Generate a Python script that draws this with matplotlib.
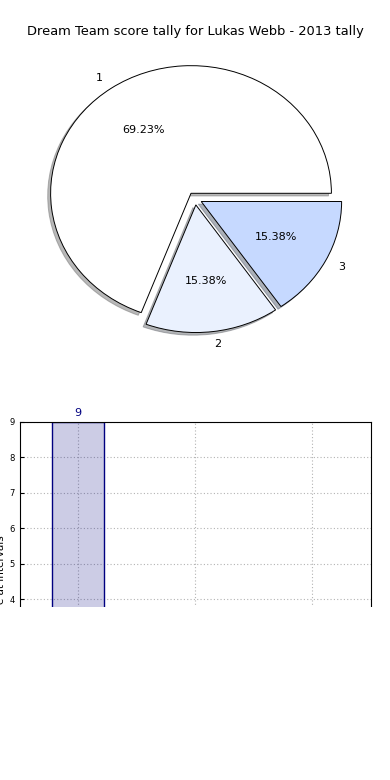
import matplotlib.pyplot as plt
from matplotlib.patches import Rectangle

# Data
labels = ['1', '2', '3']
scores = [9, 2, 2]
pie_colors = ['#ffffff', '#eaf1fe', '#c6d9ff']
title = 'Dream Team score tally for Lukas Webb - 2013 tally'

fig = plt.figure(figsize=(3.9, 7.8), dpi=100)
fig.subplots_adjust(left=0.05, right=0.95, top=0.95, bottom=0.05, hspace=0.2)

# Pie chart (stretched to fill the axes, old-style)
ax1 = fig.add_subplot(2, 1, 1)
ax1.pie(scores, labels=labels, colors=pie_colors, explode=[0.05] * len(scores),
        autopct='%.2f%%', shadow={'ox': -0.015, 'oy': -0.015, 'shade': 0.55},
        startangle=0,
        wedgeprops={'edgecolor': 'black', 'linewidth': 0.7},
        textprops={'fontsize': 8})
ax1.set_aspect('auto')
ax1.set_xlim(-1.25, 1.25)
ax1.set_ylim(-1.25, 1.25)
ax1.set_title(title, fontsize=9.35, pad=3)

# Bar chart
ax2 = fig.add_subplot(2, 1, 2)
x = range(len(scores))
ax2.bar(x, scores, width=0.45, color='navy', alpha=0.2, edgecolor='none')
ax2.bar(x, scores, width=0.45, fill=False, edgecolor='navy', linewidth=1)
for xi, v in zip(x, scores):
    ax2.text(xi, v + 0.12, str(v), ha='center', va='bottom', color='navy', fontsize=8)
ax2.set_xlim(-0.5, 2.5)
ax2.set_ylim(0, 9)
ax2.set_xticks(list(x))
ax2.set_xticklabels(labels)
ax2.tick_params(labelsize=6, direction='in', length=3)
ax2.set_ylabel('Score at intervals', fontsize=7.5, labelpad=2)
ax2.grid(True, linestyle=(0, (1, 2)), color='0.7', linewidth=0.8)
ax2.set_axisbelow(True)

# White block over the lower part of the figure
cover = Rectangle((0, 0), 1, 0.222, transform=fig.transFigure,
                  facecolor='white', edgecolor='none', zorder=10)
fig.add_artist(cover)

fig.savefig('out.png', dpi=100)
